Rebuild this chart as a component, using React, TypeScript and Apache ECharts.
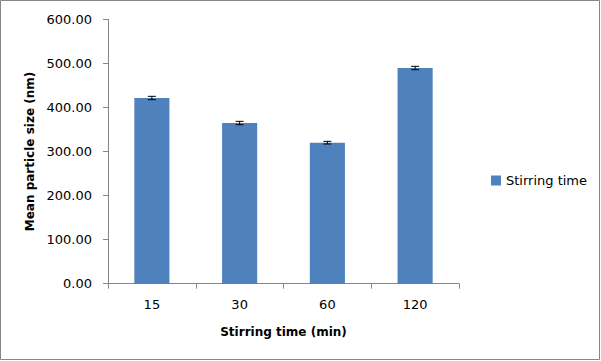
import React, { useEffect, useRef } from "react";
import * as echarts from "echarts";

const categories = ["15", "30", "60", "120"];
const meanSize = [421.4, 364.6, 320.0, 489.5];
const errorSize = [3.8, 3.8, 3.0, 3.8];
const seriesName = "Stirring time";
const xTitle = "Stirring time (min)";
const yTitle = "Mean particle size (nm)";

const FONT = "DejaVu Sans";

export default function App() {
  const ref = useRef<HTMLDivElement>(null);
  useEffect(() => {
    document.body.style.margin = "0";
    const chart = echarts.init(ref.current!, undefined, { renderer: "svg" });
    const errData = meanSize.map((v, i) => [i, v - errorSize[i], v + errorSize[i]]);
    chart.setOption({
      animation: false,
      backgroundColor: "#fff",
      textStyle: { fontFamily: FONT },
      grid: { left: 108, right: 142, top: 19.3, bottom: 77.3, containLabel: false },
      legend: {
        data: [{ name: seriesName, icon: "rect" }],
        left: 486,
        top: 169,
        itemWidth: 10,
        itemHeight: 10,
        itemGap: 5,
        textStyle: { fontFamily: FONT, fontSize: 13, color: "#000" },
      },
      xAxis: {
        type: "category",
        data: categories,
        name: xTitle,
        nameLocation: "middle",
        nameGap: 42,
        nameTextStyle: { fontFamily: FONT, fontSize: 12, fontWeight: "bold", color: "#000" },
        axisLine: { lineStyle: { color: "#868686", width: 1 } },
        axisTick: { show: true, length: 5, lineStyle: { color: "#868686" } },
        axisLabel: { fontFamily: FONT, fontSize: 13, color: "#000", margin: 14 },
        splitLine: { show: false },
      },
      yAxis: {
        type: "value",
        min: 0,
        max: 600,
        interval: 100,
        name: yTitle,
        nameLocation: "middle",
        nameGap: 72,
        nameRotate: 90,
        nameTextStyle: { fontFamily: FONT, fontSize: 12, fontWeight: "bold", color: "#000" },
        axisLine: { show: true, lineStyle: { color: "#868686", width: 1 } },
        axisTick: { show: true, length: 5, lineStyle: { color: "#868686" } },
        axisLabel: {
          fontFamily: FONT,
          fontSize: 13,
          color: "#000",
          margin: 16,
          formatter: (v: number) => v.toFixed(2),
        },
        splitLine: { show: false },
      },
      series: [
        {
          name: seriesName,
          type: "bar",
          data: meanSize,
          barWidth: "40%",
          itemStyle: { color: "#4F81BD" },
        },
        {
          type: "custom",
          data: errData,
          z: 10,
          renderItem: (params: any, api: any) => {
            const x = api.value(0);
            const lo = api.coord([x, api.value(1)]);
            const hi = api.coord([x, api.value(2)]);
            const half = 4;
            const style = { stroke: "#000", lineWidth: 1 };
            return {
              type: "group",
              children: [
                { type: "line", shape: { x1: lo[0], y1: lo[1], x2: hi[0], y2: hi[1] }, style },
                { type: "line", shape: { x1: hi[0] - half, y1: hi[1], x2: hi[0] + half, y2: hi[1] }, style },
                { type: "line", shape: { x1: lo[0] - half, y1: lo[1], x2: lo[0] + half, y2: lo[1] }, style },
              ],
            };
          },
        },
      ],
      graphic: [
        {
          type: "rect",
          shape: { x: 0.5, y: 0.5, width: 599, height: 359 },
          style: { fill: "none", stroke: "#868686", lineWidth: 1 },
          silent: true,
        },
      ],
    });
    return () => chart.dispose();
  }, []);
  return <div ref={ref} style={{ width: 601, height: 361 }} />;
}
